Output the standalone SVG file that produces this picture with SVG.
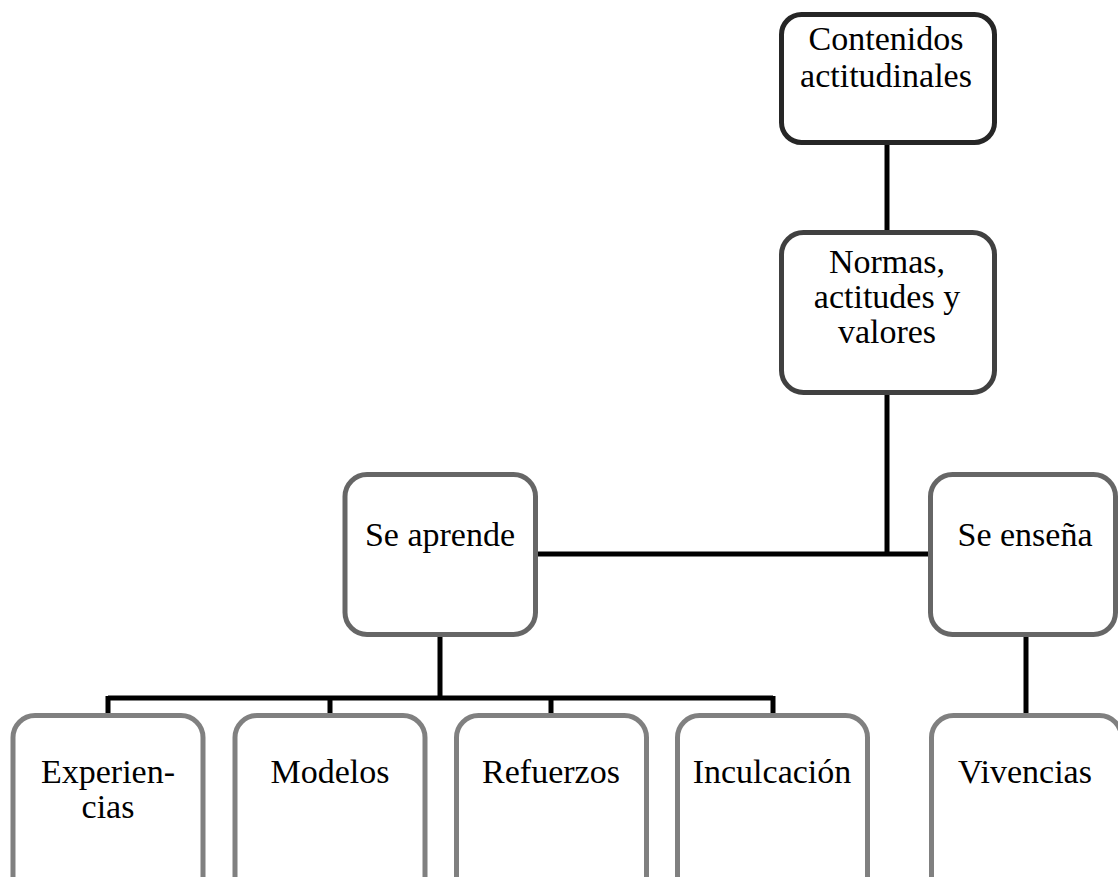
<svg xmlns="http://www.w3.org/2000/svg" width="1118" height="877" viewBox="0 0 1118 877">
  <style>
    .box { fill: #ffffff; stroke-width: 5; }
    .l1 { stroke: #262626; }
    .l2 { stroke: #404040; }
    .l3 { stroke: #666666; }
    .l4 { stroke: #808080; }
    .lbl { font-family: "Liberation Serif", "Times New Roman", serif; font-size: 34px; fill: #000000; text-anchor: middle; }
    .link { stroke: #000000; stroke-width: 5; fill: none; }
  </style>
  <rect width="1118" height="877" fill="#ffffff"/>

  <g id="connectors">
    <path class="link" d="M887 145 V230"/>
    <path class="link" d="M887 395 V554 M538 554 H928"/>
    <path class="link" d="M440 637 V698 M108 698 H773 M108 696 V713 M330 698 V713 M551 698 V713 M773 696 V713"/>
    <path class="link" d="M1026 637 V713"/>
  </g>

  <g id="contenidos">
    <rect class="box l1" x="781.5" y="14.5" width="213" height="128" rx="20"/>
    <text class="lbl" x="886" y="50">Contenidos</text>
    <text class="lbl" x="886" y="87">actitudinales</text>
  </g>

  <g id="normas">
    <rect class="box l2" x="781.5" y="232.5" width="213" height="160" rx="22"/>
    <text class="lbl" x="887" y="273">Normas,</text>
    <text class="lbl" x="887" y="308">actitudes y</text>
    <text class="lbl" x="887" y="343">valores</text>
  </g>

  <g id="se-aprende">
    <rect class="box l3" x="345" y="474.5" width="190.5" height="160" rx="22"/>
    <text class="lbl" x="440" y="546">Se aprende</text>
  </g>

  <g id="se-ensena">
    <rect class="box l3" x="930.5" y="474.5" width="185" height="160" rx="22"/>
    <text class="lbl" x="1025" y="546">Se enseña</text>
  </g>

  <g id="experiencias">
    <rect class="box l4" x="13" y="715.5" width="190" height="200" rx="22"/>
    <text class="lbl" x="108" y="783">Experien-</text>
    <text class="lbl" x="108" y="818">cias</text>
  </g>

  <g id="modelos">
    <rect class="box l4" x="235" y="715.5" width="190" height="200" rx="22"/>
    <text class="lbl" x="330" y="783">Modelos</text>
  </g>

  <g id="refuerzos">
    <rect class="box l4" x="456.5" y="715.5" width="190" height="200" rx="22"/>
    <text class="lbl" x="551" y="783">Refuerzos</text>
  </g>

  <g id="inculcacion">
    <rect class="box l4" x="677.5" y="715.5" width="190" height="200" rx="22"/>
    <text class="lbl" x="772" y="783">Inculcación</text>
  </g>

  <g id="vivencias">
    <rect class="box l4" x="931.5" y="715.5" width="190" height="200" rx="22"/>
    <text class="lbl" x="1025" y="783">Vivencias</text>
  </g>
</svg>
